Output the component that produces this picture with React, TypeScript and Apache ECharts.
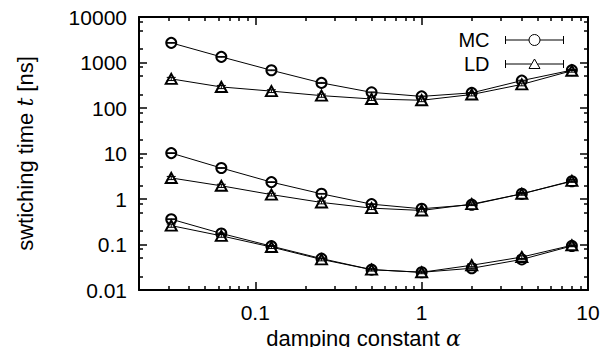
import React, { useEffect, useRef } from 'react';
import * as echarts from 'echarts';

// damping constant values (x)
const alpha = [0.03125, 0.0625, 0.125, 0.25, 0.5, 1, 2, 4, 8];

// switching times [ns]
const mcTop = [2700, 1330, 675, 356, 221, 180, 215, 400, 680];
const ldTop = [436, 290, 235, 187, 158, 148, 198, 330, 660];
const mcMid = [10.2, 4.8, 2.35, 1.3, 0.77, 0.61, 0.75, 1.3, 2.45];
const ldMid = [2.9, 1.95, 1.25, 0.84, 0.63, 0.56, 0.77, 1.3, 2.5];
const mcLow = [0.36, 0.175, 0.092, 0.049, 0.028, 0.0245, 0.03, 0.047, 0.093];
const ldLow = [0.26, 0.155, 0.088, 0.047, 0.028, 0.0245, 0.035, 0.053, 0.096];

// relative error bars
const mcTopErr = [0.02, 0.02, 0.02, 0.025, 0.02, 0.02, 0.02, 0.02, 0.02];
const ldTopErr = [0.08, 0.08, 0.07, 0.08, 0.07, 0.07, 0.07, 0.07, 0.07];
const mcMidErr = [0.02, 0.02, 0.02, 0.02, 0.02, 0.02, 0.02, 0.02, 0.02];
const ldMidErr = [0.08, 0.08, 0.07, 0.07, 0.07, 0.07, 0.07, 0.07, 0.07];
const mcLowErr = [0.02, 0.02, 0.02, 0.02, 0.02, 0.02, 0.02, 0.02, 0.02];
const ldLowErr = [0.08, 0.07, 0.07, 0.07, 0.07, 0.07, 0.07, 0.07, 0.07];

// ticks
const xMajorTicks = [0.1, 1, 10];
const xMinorTicks = [
  0.02, 0.03, 0.04, 0.05, 0.06, 0.07, 0.08, 0.09,
  0.2, 0.3, 0.4, 0.5, 0.6, 0.7, 0.8, 0.9,
  2, 3, 4, 5, 6, 7, 8, 9,
];
const yMajorTicks = [0.01, 0.1, 1, 10, 100, 1000, 10000];
const yMinorTicks = [
  0.02, 0.05, 0.08, 0.2, 0.5, 0.8, 2, 5, 8, 20, 50, 80, 200, 500, 800, 2000, 5000, 8000,
];

const FONT = 'Liberation Sans';

const zip = (xs: number[], ys: number[]) => xs.map((x, i) => [x, ys[i]]);
const errRows = (xs: number[], ys: number[], es: number[]) =>
  xs.map((x, i) => [x, ys[i] * (1 - es[i]), ys[i] * (1 + es[i])]);

const fmt = (v: number) => String(parseFloat(Number(v).toPrecision(6)));

export default function App() {
  const ref = useRef<HTMLDivElement>(null);

  useEffect(() => {
    if (!ref.current) return;
    const chart = echarts.init(ref.current, undefined, { renderer: 'svg' });

    const xBase = (extra: any) => ({
      type: 'log',
      logBase: 10,
      min: 0.02,
      max: 10,
      splitLine: { show: false },
      minorTick: { show: false },
      axisLabel: { show: false },
      axisLine: { show: false, onZero: false },
      ...extra,
    });
    const yBase = (extra: any) => ({
      type: 'log',
      logBase: 10,
      min: 0.01,
      max: 10000,
      splitLine: { show: false },
      minorTick: { show: false },
      axisLabel: { show: false },
      axisLine: { show: false, onZero: false },
      ...extra,
    });
    const tickMajor = { show: true, inside: true, length: 8, customValues: null as any, lineStyle: { color: '#000', width: 1.5 } };
    const tickMinor = { show: true, inside: true, length: 4, customValues: null as any, lineStyle: { color: '#000', width: 1.5 } };

    const lineSeries = (name: string, data: number[][], symbol: string, size: any) => ({
      name,
      type: 'line',
      xAxisIndex: 0,
      yAxisIndex: 0,
      data,
      symbol,
      symbolSize: size,
      showSymbol: true,
      lineStyle: { color: '#000', width: 1 },
      itemStyle: { color: '#000', borderColor: '#000', borderWidth: 1 },
      z: 2,
    });

    const errSeries = (name: string, data: number[][]) => ({
      name,
      type: 'custom',
      xAxisIndex: 0,
      yAxisIndex: 0,
      data,
      encode: { x: 0, y: [1, 2] },
      z: 4,
      renderItem: (params: any, api: any) => {
        const x = api.value(0);
        const p1 = api.coord([x, api.value(1)]);
        const p2 = api.coord([x, api.value(2)]);
        const hw = 4.5;
        const st = { stroke: '#000', lineWidth: 1 };
        return {
          type: 'group',
          children: [
            { type: 'line', shape: { x1: p1[0], y1: p1[1], x2: p2[0], y2: p2[1] }, style: st },
            { type: 'line', shape: { x1: p1[0] - hw, y1: p1[1], x2: p1[0] + hw, y2: p1[1] }, style: st },
            { type: 'line', shape: { x1: p2[0] - hw, y1: p2[1], x2: p2[0] + hw, y2: p2[1] }, style: st },
          ],
        };
      },
    });

    const legendItemStyle = { color: '#fff', borderColor: '#000', borderWidth: 1 };

    chart.setOption({
      animation: false,
      backgroundColor: '#fff',
      grid: { left: 139, right: 14, top: 17, height: 273, outerBoundsMode: 'none', containLabel: false },
      legend: {
        orient: 'vertical',
        right: 38,
        top: 30,
        padding: 0,
        align: 'right',
        itemWidth: 58,
        itemHeight: 12,
        itemGap: 4,
        selectedMode: false,
        textStyle: { fontSize: 20, fontFamily: FONT, color: '#000', padding: [0, 11, 0, 0] },
        data: [
          {
            name: 'MC',
            icon: 'path://M0,0M58,12M0,2L0,10M0,6L23.5,6M34.5,6L58,6M58,2L58,10M23.5,6A5.5,5.5,0,1,1,34.5,6A5.5,5.5,0,1,1,23.5,6Z',
            itemStyle: legendItemStyle,
          },
          {
            name: 'LD',
            icon: 'path://M0,0M58,12M0,2L0,10M0,6L26,6M32,6L58,6M58,2L58,10M29,1L34.5,10.5L23.5,10.5Z',
            itemStyle: legendItemStyle,
          },
        ],
      },
      xAxis: [
        xBase({
          position: 'bottom',
          axisLine: { show: true, onZero: false, lineStyle: { color: '#000', width: 2 } },
          axisTick: { ...tickMajor, customValues: xMajorTicks },
          axisLabel: {
            show: true,
            customValues: xMajorTicks,
            formatter: fmt,
            fontSize: 21,
            fontFamily: FONT,
            color: '#000',
            margin: 12,
          },
          name: 'damping constant {i|α}',
          nameLocation: 'middle',
          nameGap: 36,
          nameTextStyle: {
            fontSize: 22,
            fontFamily: FONT,
            color: '#000',
            rich: { i: { fontSize: 22, fontFamily: 'DejaVu Serif', fontStyle: 'italic', color: '#000' } },
          },
        }),
        xBase({ position: 'bottom', axisTick: { ...tickMinor, customValues: xMinorTicks } }),
        xBase({
          position: 'top',
          axisLine: { show: true, onZero: false, lineStyle: { color: '#000', width: 2 } },
          axisTick: { ...tickMajor, customValues: xMajorTicks },
        }),
        xBase({ position: 'top', axisTick: { ...tickMinor, customValues: xMinorTicks } }),
      ],
      yAxis: [
        yBase({
          position: 'left',
          axisLine: { show: true, onZero: false, lineStyle: { color: '#000', width: 2 } },
          axisTick: { ...tickMajor, customValues: yMajorTicks },
          axisLabel: {
            show: true,
            customValues: yMajorTicks,
            formatter: fmt,
            fontSize: 21,
            fontFamily: FONT,
            color: '#000',
            margin: 12,
          },
          name: 'swtiching time {i|t} [ns]',
          nameLocation: 'middle',
          nameRotate: 90,
          nameGap: 103,
          nameTextStyle: {
            fontSize: 22,
            fontFamily: FONT,
            color: '#000',
            rich: { i: { fontSize: 22, fontFamily: 'DejaVu Serif', fontStyle: 'italic', color: '#000' } },
          },
        }),
        yBase({ position: 'left', axisTick: { ...tickMinor, customValues: yMinorTicks } }),
        yBase({
          position: 'right',
          axisLine: { show: true, onZero: false, lineStyle: { color: '#000', width: 2 } },
          axisTick: { ...tickMajor, customValues: yMajorTicks },
        }),
        yBase({ position: 'right', axisTick: { ...tickMinor, customValues: yMinorTicks } }),
      ],
      series: [
        lineSeries('MC', zip(alpha, mcTop), 'emptyCircle', 10),
        lineSeries('LD', zip(alpha, ldTop), 'emptyTriangle', [11, 10]),
        lineSeries('MC', zip(alpha, mcMid), 'emptyCircle', 10),
        lineSeries('LD', zip(alpha, ldMid), 'emptyTriangle', [11, 10]),
        lineSeries('MC', zip(alpha, mcLow), 'emptyCircle', 10),
        lineSeries('LD', zip(alpha, ldLow), 'emptyTriangle', [11, 10]),
        errSeries('errMCtop', errRows(alpha, mcTop, mcTopErr)),
        errSeries('errLDtop', errRows(alpha, ldTop, ldTopErr)),
        errSeries('errMCmid', errRows(alpha, mcMid, mcMidErr)),
        errSeries('errLDmid', errRows(alpha, ldMid, ldMidErr)),
        errSeries('errMClow', errRows(alpha, mcLow, mcLowErr)),
        errSeries('errLDlow', errRows(alpha, ldLow, ldLowErr)),
      ],
    });

    return () => chart.dispose();
  }, []);

  return <div ref={ref} style={{ width: 602, height: 347, position: 'absolute', left: 0, top: 0 }} />;
}
